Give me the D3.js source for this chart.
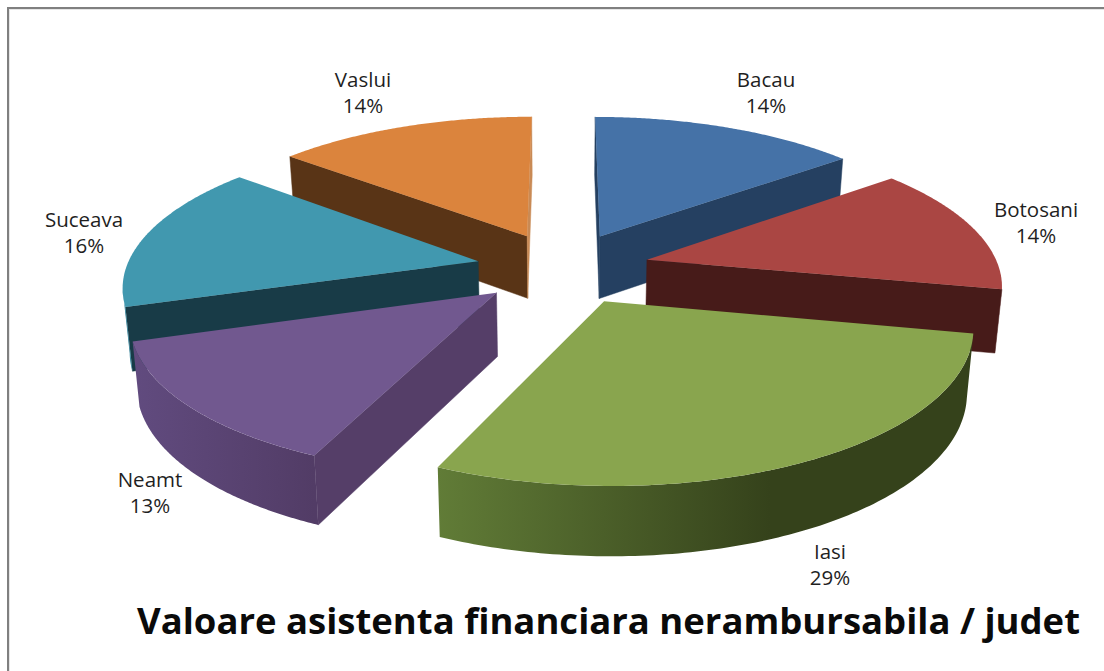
<!DOCTYPE html>
<html><head><meta charset="utf-8">
<script src="https://cdn.jsdelivr.net/npm/d3@7"></script>
<style>html,body{margin:0;padding:0;background:#fff}svg{display:block}</style>
</head><body><svg id="c" width="1104" height="671"></svg>
<script>
const categories = ["Bacau","Botosani","Iasi","Neamt","Suceava","Vaslui"];
const values = [14.4,13.8,28.5,13.4,15.9,14.0];
const topColors = ["#4572a7","#aa4643","#89a54e","#71588f","#4198af","#db843d"];
const wallColors = ["#254061","#471b19","#35421b","#553e68","#183b47","#593416"];
const endWallColors = ["#254061","#471b19","#35421b","#553e68","#183b47","#c98a55"];
const arcLight = ["#2f5078","#5a2321","#617c37","#614b7f","#3f8fa6","#6f421c"];
const arcDark = ["#254061","#471b19","#35421b","#523c66","#3a879d","#593416"];
const labelAnchors = [[766,87],[1036,217],[830,559],[150,487],[84,227],[363,87]];
const title = "Valoare asistenta financiara nerambursabila / judet";

const W=1104,H=671;
const svg=d3.select("#c");
const defs=svg.append("defs");
const cx=563, cy=268, camD=2360, horizon=980, R=352, explode=87;
const wOf=v=>camD/(camD-v);
const base=(X,V)=>{const w=wOf(V);return [cx+X*w, cy+horizon*(w-1), w];};
const top3=(X,V)=>{const p=base(X,V);return [p[0],p[1]];};
const bot3=(X,V)=>{const p=base(X,V);return [cx+(p[0]-cx)*0.984, p[1]+30+33*p[2]];};

const pie=d3.pie().sort(null).value(d=>d).startAngle(0).endAngle(2*Math.PI);
const arcs=pie(values);
const line=d3.line();
const slices=arcs.map((a,i)=>{
  const mid=(a.startAngle+a.endAngle)/2;
  return {i,a0:a.startAngle,a1:a.endAngle,ax:explode*Math.sin(mid),av:-explode*Math.cos(mid)};
}).sort((p,q)=>p.av-q.av);

svg.append("rect").attr("width",W).attr("height",H).attr("fill","#fff");
svg.append("rect").attr("x",9.5).attr("y",9.5).attr("width",1200).attr("height",900)
   .attr("fill","none").attr("stroke","#e6e6e6").attr("stroke-width",1);
svg.append("rect").attr("x",8).attr("y",8).attr("width",1200).attr("height",900)
   .attr("fill","none").attr("stroke","#808080").attr("stroke-width",2);

slices.forEach(s=>{
  const g=svg.append("g");
  const rim=a=>[s.ax+R*Math.sin(a), s.av-R*Math.cos(a)];
  const samples=d3.range(0,121).map(t=>s.a0+(s.a1-s.a0)*t/120);
  const camDot=(nx,nv,X,V)=>nx*(-X)+nv*(camD-V);
  const cutWall=(a,col)=>{
    const P=rim(a);
    const pts=[top3(s.ax,s.av),top3(P[0],P[1]),bot3(P[0],P[1]),bot3(s.ax,s.av)];
    g.append("path").attr("d",line(pts)+"Z").attr("fill",col)
      .attr("stroke",col).attr("stroke-width",.5);
  };
  if(camDot(-Math.cos(s.a0),-Math.sin(s.a0),s.ax,s.av)>0) cutWall(s.a0,wallColors[s.i]);
  if(camDot(Math.cos(s.a1),Math.sin(s.a1),s.ax,s.av)>0) cutWall(s.a1,endWallColors[s.i]);
  const facing=samples.filter(a=>{const P=rim(a);return camDot(Math.sin(a),-Math.cos(a),P[0],P[1])>0;});
  if(facing.length>1){
    const up=facing.map(a=>{const P=rim(a);return top3(P[0],P[1]);});
    const dn=facing.map(a=>{const P=rim(a);return bot3(P[0],P[1]);}).reverse();
    const xs=up.map(p=>p[0]);
    const id="g"+s.i;
    const lg=defs.append("linearGradient").attr("id",id).attr("gradientUnits","userSpaceOnUse")
      .attr("x1",d3.min(xs)).attr("x2",d3.max(xs)).attr("y1",0).attr("y2",0);
    lg.append("stop").attr("offset",0).attr("stop-color",arcLight[s.i]);
    lg.append("stop").attr("offset",s.i===2?0.62:1).attr("stop-color",arcDark[s.i]);
    g.append("path").attr("d",line(up.concat(dn))+"Z").attr("fill",`url(#${id})`);
  }
  const topPts=[top3(s.ax,s.av)].concat(samples.map(a=>{const P=rim(a);return top3(P[0],P[1]);}));
  g.append("path").attr("d",line(topPts)+"Z").attr("fill",topColors[s.i]);
});

const font="'Open Sans',sans-serif";
categories.forEach((c,i)=>{
  const t=svg.append("text").attr("text-anchor","middle").attr("font-family",font)
    .attr("font-size",20.5).attr("fill","#1f1f1f");
  t.append("tspan").attr("x",labelAnchors[i][0]).attr("y",labelAnchors[i][1]).text(c);
  t.append("tspan").attr("x",labelAnchors[i][0]).attr("y",labelAnchors[i][1]+26).text(Math.round(values[i])+"%");
});
svg.append("text").attr("x",137).attr("y",633.5).attr("font-family",font).attr("font-weight",700)
  .attr("font-size",36).attr("textLength",943).attr("lengthAdjust","spacingAndGlyphs").attr("fill","#0a0a0a").text(title);
</script></body></html>
